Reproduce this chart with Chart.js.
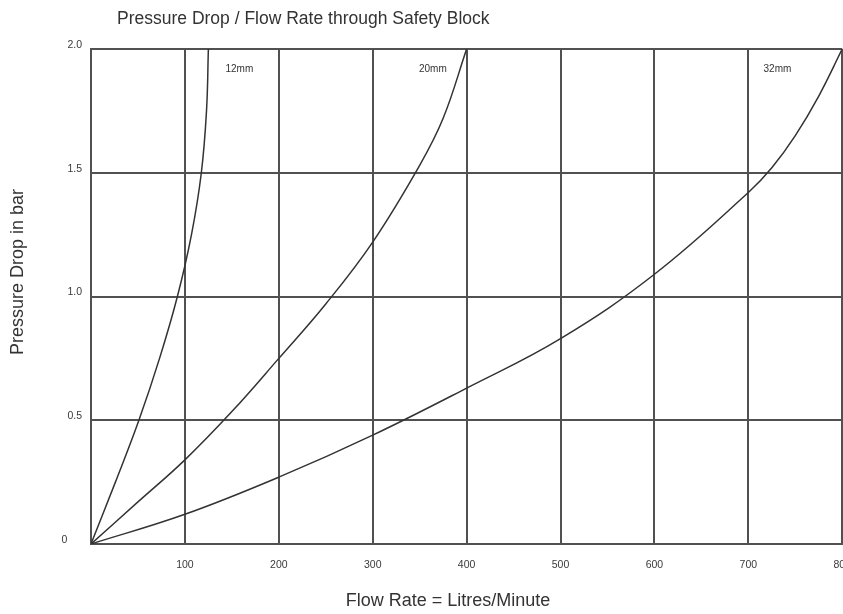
<!DOCTYPE html>
<html lang="en">
<head>
    <meta charset="UTF-8">
    <title>Pressure Drop / Flow Rate</title>
    <script src="https://cdn.jsdelivr.net/npm/chart.js"></script>
    <style>
        html, body {
            margin: 0;
            background: #ffffff;
            overflow: hidden;
        }
        .wrap {
            position: absolute;
            left: 0;
            top: 0;
            width: 866px;
            height: 614px;
        }
    </style>
</head>
<body>
    <div class="wrap">
        <canvas id="dropChart"></canvas>
    </div>

    <script>
        // values (flow in L/min, drop in bar)
        const flow12 = [0, 26, 51, 73, 92, 107, 117.5, 123, 125];
        const drop12 = [0, 0.25, 0.5, 0.75, 1.0, 1.25, 1.5, 1.75, 2.0];

        const flow20 = [0, 50, 100, 150, 200, 250, 300, 350, 375, 400];
        const drop20 = [0, 0.17, 0.34, 0.535, 0.75, 0.97, 1.22, 1.53, 1.72, 2.0];

        const flow32 = [0, 100, 200, 300, 400, 500, 600, 700, 725, 750, 775, 800];
        const drop32 = [0, 0.12, 0.27, 0.44, 0.63, 0.83, 1.09, 1.42, 1.52, 1.65, 1.81, 2.0];

        const seriesNames = ['12mm', '20mm', '32mm'];
        const nameFlow = [158, 364, 731];
        const nameDrop = 1.92;

        const xTicks = [0, 100, 200, 300, 400, 500, 600, 700, 800];
        const yTicks = [0, 0.5, 1.0, 1.5, 2.0];

        const titleText = 'Pressure Drop / Flow Rate through Safety Block';
        const xTitle = 'Flow Rate = Litres/Minute';
        const yTitle = 'Pressure Drop in bar';

        const gridColor = '#515151';
        const lineColor = '#333333';

        function toPoints(xs, ys) {
            return xs.map((x, i) => ({ x: x, y: ys[i] }));
        }

        const textPlugin = {
            id: 'chartTexts',
            afterDraw(chart) {
                const c = chart.ctx;
                const xs = chart.scales.x;
                const ys = chart.scales.y;
                c.save();
                c.fillStyle = '#333333';
                c.textBaseline = 'middle';

                c.font = '17.5px "Liberation Sans", Arial, sans-serif';
                c.textAlign = 'left';
                c.fillText(titleText, 117, 19);

                c.font = '18px "Liberation Sans", Arial, sans-serif';
                c.textAlign = 'center';
                c.fillText(xTitle, 448, 601);

                c.save();
                c.translate(18, 272);
                c.rotate(-Math.PI / 2);
                c.fillText(yTitle, 0, 0);
                c.restore();

                c.font = '10px "Liberation Sans", Arial, sans-serif';
                seriesNames.forEach((name, i) => {
                    c.fillText(name, xs.getPixelForValue(nameFlow[i]), ys.getPixelForValue(nameDrop));
                });
                c.restore();
            }
        };

        const lineStyle = {
            showLine: true,
            borderColor: lineColor,
            borderWidth: 1.5,
            pointRadius: 0,
            tension: 0.4,
            fill: false
        };

        const ctx = document.getElementById('dropChart').getContext('2d');
        const chart = new Chart(ctx, {
            type: 'scatter',
            data: {
                datasets: [
                    Object.assign({ label: seriesNames[0], data: toPoints(flow12, drop12) }, lineStyle),
                    Object.assign({ label: seriesNames[1], data: toPoints(flow20, drop20) }, lineStyle),
                    Object.assign({ label: seriesNames[2], data: toPoints(flow32, drop32) }, lineStyle)
                ]
            },
            options: {
                responsive: true,
                maintainAspectRatio: false,
                animation: false,
                layout: {
                    padding: { top: 49, right: 17, bottom: 0, left: 0 }
                },
                plugins: {
                    legend: { display: false },
                    tooltip: { enabled: false }
                },
                scales: {
                    x: {
                        type: 'linear',
                        min: 0,
                        max: 800,
                        afterBuildTicks: s => { s.ticks = xTicks.map(v => ({ value: v })); },
                        afterFit: s => { s.height = 70; },
                        grid: { color: gridColor, lineWidth: 2, drawTicks: false },
                        border: { color: gridColor, width: 2 },
                        ticks: {
                            padding: 15,
                            color: '#3a3a3a',
                            font: { family: '"Liberation Sans", Arial, sans-serif', size: 10.5 },
                            callback: v => (v === 0 ? '' : String(v))
                        }
                    },
                    y: {
                        type: 'linear',
                        min: 0,
                        max: 2,
                        afterBuildTicks: s => { s.ticks = yTicks.map(v => ({ value: v })); },
                        afterFit: s => { s.width = 91; },
                        grid: { color: gridColor, lineWidth: 2, drawTicks: false },
                        border: { color: gridColor, width: 2 },
                        ticks: {
                            padding: 9,
                            labelOffset: -4,
                            color: '#3a3a3a',
                            font: { family: '"Liberation Sans", Arial, sans-serif', size: 10.5 },
                            callback: v => (v === 0 ? '0     ' : v.toFixed(1))
                        }
                    }
                }
            },
            plugins: [textPlugin]
        });
    </script>
</body>
</html>
